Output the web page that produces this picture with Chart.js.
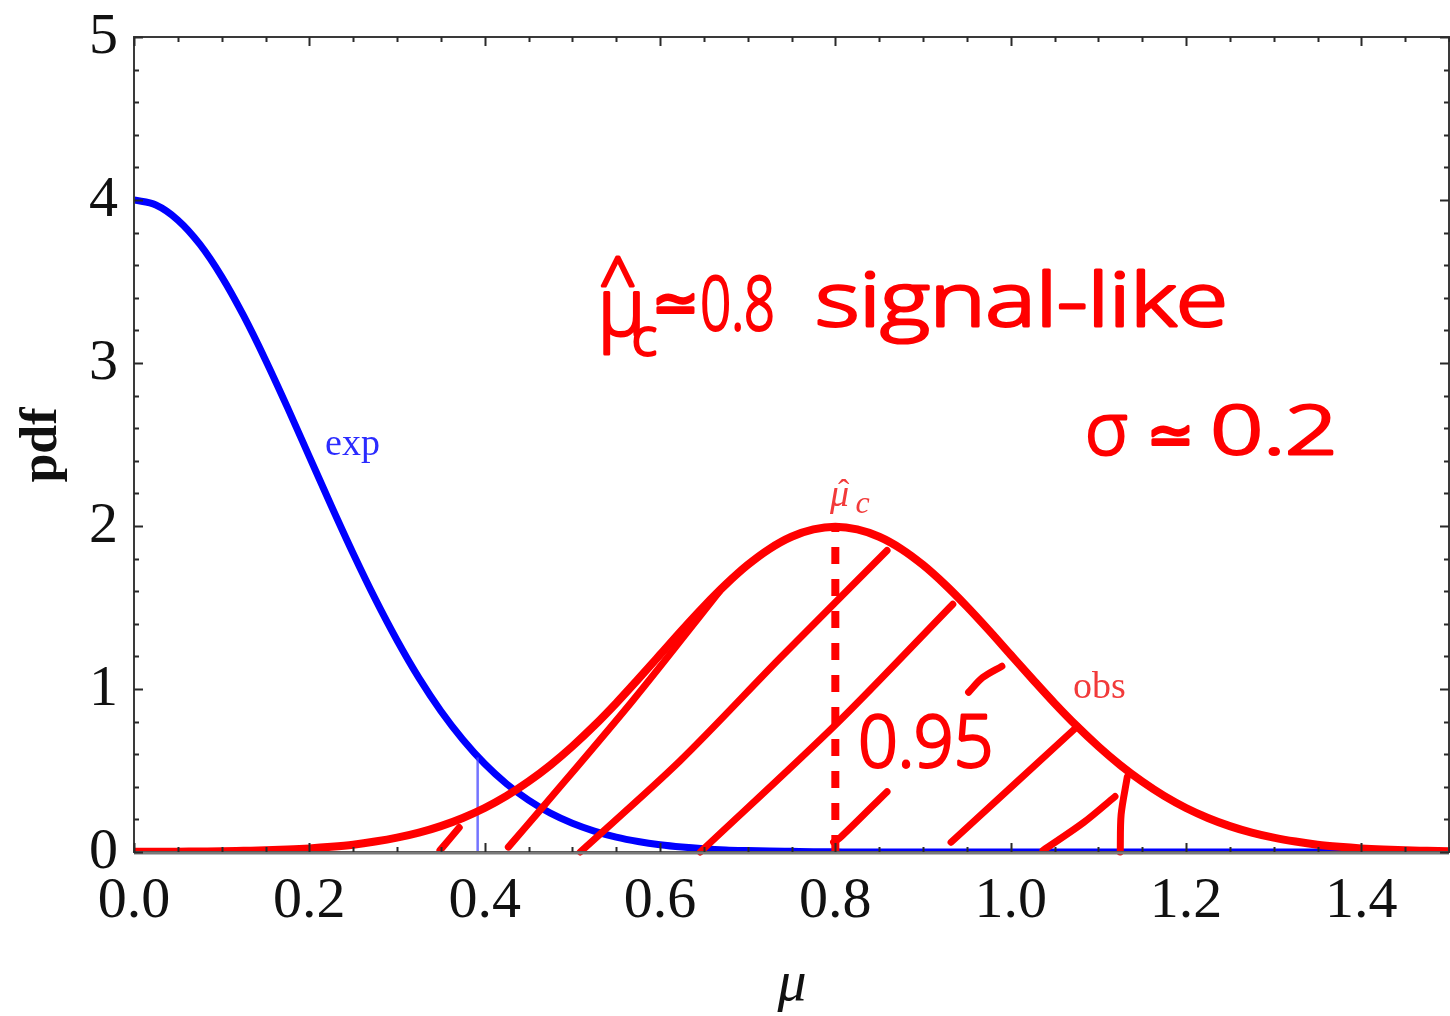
<!DOCTYPE html>
<html>
<head>
<meta charset="utf-8">
<script src="https://cdn.jsdelivr.net/npm/chart.js@4.4.1/dist/chart.umd.min.js"></script>
<style>
  html, body { margin: 0; padding: 0; background: #ffffff; overflow: hidden; }
  canvas { display: block; }
</style>
</head>
<body>
<canvas id="pdfChart" width="1450" height="1016"></canvas>
<script>
// Signal strength grid and the two probability densities
const muGrid = [0.000, 0.025, 0.050, 0.075, 0.100, 0.125, 0.150, 0.175, 0.200, 0.225,
                0.250, 0.275, 0.300, 0.325, 0.350, 0.375, 0.400, 0.425, 0.450, 0.475,
                0.500, 0.525, 0.550, 0.575, 0.600, 0.625, 0.650, 0.675, 0.700, 0.725,
                0.750, 0.775, 0.800, 0.825, 0.850, 0.875, 0.900, 0.925, 0.950, 0.975,
                1.000, 1.025, 1.050, 1.075, 1.100, 1.125, 1.150, 1.175, 1.200, 1.225,
                1.250, 1.275, 1.300, 1.325, 1.350, 1.375, 1.400, 1.425, 1.450, 1.475,
                1.500];
const pdfExp = [4.000, 3.969, 3.877, 3.729, 3.530, 3.290, 3.019, 2.728, 2.426, 2.124,
                1.831, 1.554, 1.299, 1.068, 0.865, 0.690, 0.541, 0.418, 0.318, 0.238,
                0.176, 0.128, 0.091, 0.064, 0.044, 0.030, 0.020, 0.013, 0.009, 0.006,
                0.004, 0.002, 0.001, 0.000, 0.000, 0.000, 0.000, 0.000, 0.000, 0.000,
                0.000, 0.000, 0.000, 0.000, 0.000, 0.000, 0.000, 0.000, 0.000, 0.000,
                0.000, 0.000, 0.000, 0.000, 0.000, 0.000, 0.000, 0.000, 0.000, 0.000,
                0.000];
const pdfObs = [0.001, 0.001, 0.002, 0.003, 0.004, 0.007, 0.010, 0.015, 0.022, 0.032,
                0.045, 0.064, 0.088, 0.119, 0.159, 0.209, 0.270, 0.344, 0.432, 0.533,
                0.648, 0.775, 0.913, 1.060, 1.210, 1.361, 1.506, 1.641, 1.761, 1.860,
                1.934, 1.979, 1.995, 1.979, 1.934, 1.860, 1.761, 1.641, 1.506, 1.361,
                1.210, 1.060, 0.913, 0.775, 0.648, 0.533, 0.432, 0.344, 0.270, 0.209,
                0.159, 0.119, 0.088, 0.064, 0.045, 0.032, 0.022, 0.015, 0.010, 0.007,
                0.004];

// Expected 95% upper limit and the observed best fit
const expLimit = [0.392, 0.58];   // [mu, height of the marker]
const muHatObs = [0.80, 1.995];   // [mu, peak of the observed pdf]

// Axis ticks
const xTickValues = [0.0, 0.2, 0.4, 0.6, 0.8, 1.0, 1.2, 1.4];
const xTickLabels = ['0.0', '0.2', '0.4', '0.6', '0.8', '1.0', '1.2', '1.4'];
const yTickValues = [0, 1, 2, 3, 4, 5];
const yTickLabels = ['0', '1', '2', '3', '4', '5'];

// Hand-drawn hatching under the observed pdf, as [mu, pdf] points
const hatch1 = [[0.349, 0.01], [0.371, 0.15]];
const hatch2 = [[0.427, 0.03], [0.467, 0.28], [0.569, 0.93], [0.668, 1.60]];
const hatch3 = [[0.509, 0.00], [0.623, 0.56], [0.737, 1.19], [0.859, 1.85]];
const hatch4 = [[0.646, 0.00], [0.802, 0.79], [0.934, 1.52]];
const hatch5 = [[0.798, 0.06], [0.806, 0.09], [0.859, 0.37]];
const hatch6 = [[0.952, 0.98], [0.968, 1.07], [0.990, 1.14]];
const hatch7 = [[0.932, 0.06], [1.076, 0.77]];
const hatch8 = [[1.037, 0.01], [1.083, 0.18], [1.119, 0.34]];
const hatch9 = [[1.125, 0.00], [1.126, 0.23], [1.133, 0.46]];
const hatchStrokes = [hatch1, hatch2, hatch3, hatch4, hatch5, hatch6, hatch7, hatch8, hatch9];

const toPoints = (xs, ys) => xs.map((x, i) => ({ x: x, y: ys[i] }));
const pairPoints = pts => pts.map(p => ({ x: p[0], y: p[1] }));

const RED = '#ff0000';
const BLUE = '#0000ff';

const datasets = [
  {
    label: 'exp',
    data: toPoints(muGrid, pdfExp),
    borderColor: BLUE, borderWidth: 7,
    cubicInterpolationMode: 'monotone',
    pointRadius: 0, order: 4, clip: 0
  },
  {
    label: 'exp limit',
    data: [{ x: expLimit[0], y: 0 }, { x: expLimit[0], y: expLimit[1] }],
    borderColor: 'rgba(70,70,255,0.75)', borderWidth: 2.5,
    pointRadius: 0, order: 3, clip: 0
  },
  {
    label: 'obs',
    data: toPoints(muGrid, pdfObs),
    borderColor: RED, borderWidth: 8,
    cubicInterpolationMode: 'monotone',
    pointRadius: 0, order: 2, clip: 0
  },
  {
    label: 'mu hat',
    data: [{ x: muHatObs[0], y: 0 }, { x: muHatObs[0], y: muHatObs[1] }],
    borderColor: RED, borderWidth: 8, borderDash: [17, 15],
    pointRadius: 0, order: 1, clip: 0
  }
];

hatchStrokes.forEach((s, i) => {
  datasets.push({
    label: 'hatch' + (i + 1),
    data: pairPoints(s),
    borderColor: RED, borderWidth: 7,
    borderCapStyle: 'round', borderJoinStyle: 'round',
    tension: 0.3,
    pointRadius: 0, order: 0, clip: false
  });
});

// Slight softness on the observed curve
const softObs = {
  id: 'softObs',
  beforeDatasetDraw(chart, args) {
    if (chart.data.datasets[args.index].label === 'obs') {
      chart.ctx.save();
      chart.ctx.filter = 'blur(0.7px)';
    }
  },
  afterDatasetDraw(chart, args) {
    if (chart.data.datasets[args.index].label === 'obs') {
      chart.ctx.restore();
    }
  }
};

// Framed axes with inward ticks, tick labels and titles
const framePlugin = {
  id: 'framePlugin',
  afterDatasetsDraw(chart) {
    const ctx = chart.ctx;
    const xs = chart.scales.x, ys = chart.scales.y;
    const a = chart.chartArea;
    ctx.save();
    ctx.strokeStyle = '#3a3a3a';
    ctx.lineWidth = 2;
    ctx.beginPath();
    ctx.rect(a.left, a.top, a.right - a.left, a.bottom - a.top);
    ctx.stroke();
    ctx.strokeStyle = '#7a7a7a';
    ctx.lineWidth = 3;
    ctx.beginPath();
    ctx.moveTo(a.left, a.bottom + 1);
    ctx.lineTo(a.right, a.bottom + 1);
    ctx.stroke();

    ctx.strokeStyle = '#2a2a2a';
    ctx.lineWidth = 2;
    ctx.beginPath();
    // x ticks every 0.05, long at the labelled ones
    for (let k = 0; k <= 30; k++) {
      const v = k * 0.05;
      const px = Math.round(xs.getPixelForValue(v)) + 0.5;
      const len = (k % 4 === 0) ? 9 : 5;
      ctx.moveTo(px, a.bottom); ctx.lineTo(px, a.bottom - len);
      ctx.moveTo(px, a.top); ctx.lineTo(px, a.top + len);
    }
    // y ticks every 0.2, long at integers
    for (let k = 0; k <= 25; k++) {
      const v = k * 0.2;
      const py = Math.round(ys.getPixelForValue(v)) + 0.5;
      const len = (k % 5 === 0) ? 9 : 5;
      ctx.moveTo(a.left, py); ctx.lineTo(a.left + len, py);
      ctx.moveTo(a.right, py); ctx.lineTo(a.right - len, py);
    }
    ctx.stroke();

    ctx.fillStyle = '#111111';
    ctx.font = '58px "Liberation Serif", "Times New Roman", serif';
    ctx.textAlign = 'center';
    ctx.textBaseline = 'alphabetic';
    xTickValues.forEach((v, i) => {
      ctx.fillText(xTickLabels[i], xs.getPixelForValue(v), a.bottom + 65);
    });
    ctx.textAlign = 'right';
    yTickValues.forEach((v, i) => {
      ctx.fillText(yTickLabels[i], a.left - 16, ys.getPixelForValue(v) + 16);
    });

    // axis titles
    ctx.font = 'bold 52px "Liberation Serif", "Times New Roman", serif';
    ctx.textAlign = 'center';
    ctx.save();
    ctx.translate(56, 445);
    ctx.rotate(-Math.PI / 2);
    ctx.fillText('pdf', 0, 0);
    ctx.restore();
    ctx.font = 'italic 58px "Liberation Serif", "Times New Roman", serif';
    ctx.fillText('μ', 792, 1000);
    ctx.restore();
  },
  afterDraw(chart) {
    const ctx = chart.ctx;
    const xs = chart.scales.x, ys = chart.scales.y;
    const X = v => xs.getPixelForValue(v);
    const Y = v => ys.getPixelForValue(v);
    ctx.save();
    ctx.textBaseline = 'alphabetic';
    ctx.textAlign = 'left';

    // curve labels
    ctx.font = '38px "Liberation Serif", "Times New Roman", serif';
    ctx.fillStyle = '#2b2bff';
    ctx.fillText('exp', X(0.218), Y(2.436));
    ctx.fillStyle = '#f23a3a';
    ctx.fillText('obs', X(1.071), Y(0.945));
    ctx.font = 'italic 38px "Liberation Serif", "Times New Roman", serif';
    ctx.fillText('μ', X(0.794), Y(2.12));
    ctx.font = '34px "Liberation Serif", "Times New Roman", serif';
    ctx.fillText('ˆ', X(0.803), Y(2.14));
    ctx.font = 'italic 32px "Liberation Serif", "Times New Roman", serif';
    ctx.fillText('c', X(0.823), Y(2.08));

    // marker-pen notes
    const pen = (text, x0, y0, size, widthTo) => {
      ctx.font = '300 ' + size + 'px "Open Sans", "DejaVu Sans", sans-serif';
      const w = ctx.measureText(text).width;
      const sx = widthTo ? (X(widthTo) - X(x0)) / w : 1;
      ctx.save();
      ctx.translate(X(x0), Y(y0));
      ctx.scale(sx, 1);
      ctx.fillStyle = RED;
      ctx.strokeStyle = RED;
      ctx.lineWidth = 3;
      ctx.lineJoin = 'round';
      ctx.lineCap = 'round';
      ctx.strokeText(text, 0, 0);
      ctx.fillText(text, 0, 0);
      ctx.restore();
    };
    pen('μ', 0.529, 3.17, 80);
    pen('^', 0.531, 3.36, 64);
    pen('c', 0.568, 3.05, 52);
    pen('≃', 0.591, 3.25, 56);
    pen('0.8', 0.646, 3.20, 74, 0.731);
    pen('signal-like', 0.777, 3.23, 74, 1.248);
    pen('σ', 1.085, 2.44, 72);
    pen('≃', 1.155, 2.44, 56);
    pen('0.2', 1.228, 2.44, 66, 1.373);
    pen('0.95', 0.826, 0.52, 72, 0.980);
    ctx.restore();
  }
};

new Chart(document.getElementById('pdfChart'), {
  type: 'line',
  data: { datasets: datasets },
  options: {
    responsive: false,
    animation: false,
    devicePixelRatio: 1,
    layout: { padding: { left: 134, right: 1, top: 37, bottom: 164 } },
    plugins: { legend: { display: false }, tooltip: { enabled: false } },
    scales: {
      x: { type: 'linear', min: 0, max: 1.5, display: false },
      y: { type: 'linear', min: 0, max: 5, display: false }
    }
  },
  plugins: [softObs, framePlugin]
});
</script>
</body>
</html>
